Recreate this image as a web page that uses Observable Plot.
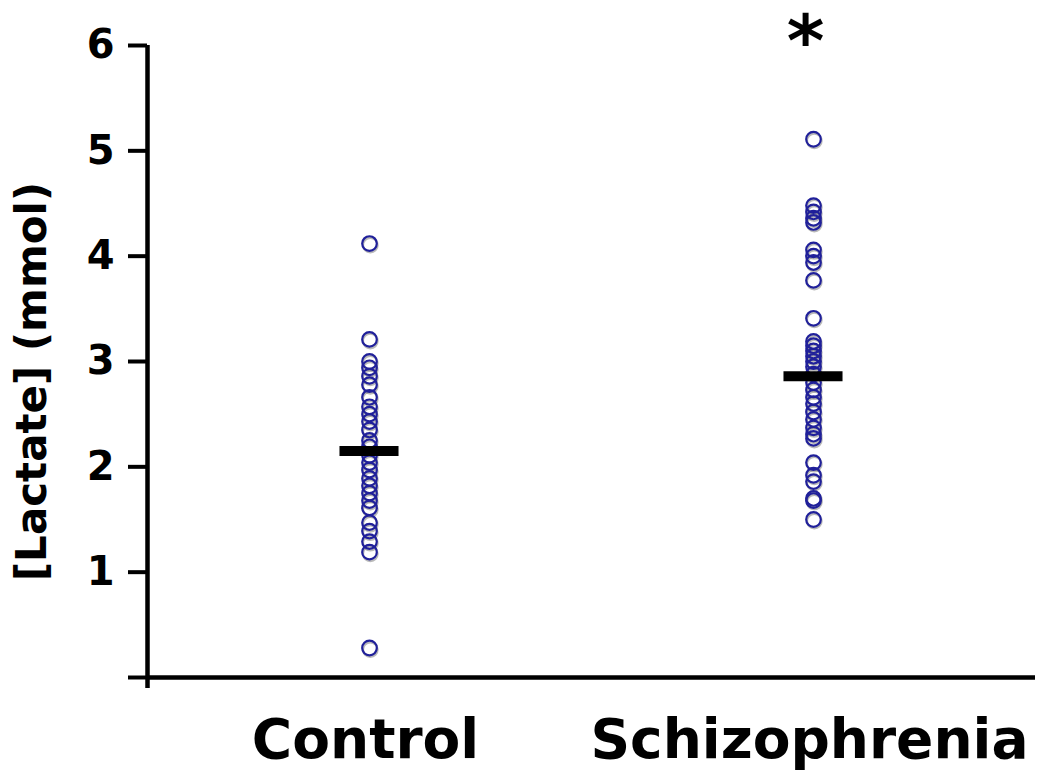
<!DOCTYPE html>
<html>
<head>
<meta charset="utf-8">
<script src="https://cdn.jsdelivr.net/npm/d3@7"></script>
<script src="https://cdn.jsdelivr.net/npm/@observablehq/plot@0.6"></script>
<style>
  html, body { margin: 0; padding: 0; background: #fff; }
</style>
</head>
<body>
<div id="chart"></div>
<script>
const categories = ["Control", "Schizophrenia"];
const controlValues = [4.12, 3.21, 3.00, 2.94, 2.86, 2.78, 2.66, 2.57, 2.50, 2.43, 2.35, 2.25, 2.19,
  2.11, 2.04, 1.97, 1.89, 1.82, 1.75, 1.68, 1.61, 1.47, 1.39, 1.29, 1.19, 0.28];
const schizophreniaValues = [5.11, 4.48, 4.42, 4.36, 4.32, 4.06, 4.00, 3.94, 3.77, 3.41, 3.19, 3.15,
  3.10, 3.05, 3.00, 2.95, 2.88, 2.80, 2.73, 2.66, 2.60, 2.52, 2.45, 2.37, 2.31, 2.27, 2.04, 1.92,
  1.86, 1.70, 1.68, 1.50];
const groupMeans = [2.15, 2.86];
const significance = ["", "*"];
const yTicks = [0, 1, 2, 3, 4, 5, 6];
const yLabel = "[Lactate] (mmol)";

const pos = i => 2 * i + 1;
const points = [
  ...controlValues.map(v => ({x: pos(0), y: v})),
  ...schizophreniaValues.map(v => ({x: pos(1), y: v}))
];
const means = groupMeans.map((v, i) => ({x: pos(i), y: v}));
const stars = significance.map((s, i) => ({x: pos(i), text: s}));

const chart = Plot.plot({
  width: 1047,
  height: 772,
  marginLeft: 147,
  marginRight: 12,
  marginTop: 45,
  marginBottom: 95,
  style: {fontFamily: "DejaVu Sans", fontWeight: "bold", color: "#000", background: "#fff"},
  x: {type: "linear", domain: [0, 4]},
  y: {domain: [0, 6]},
  marks: [
    Plot.ruleX([0], {strokeWidth: 4.5, stroke: "#000", insetBottom: -11}),
    Plot.ruleY([0], {strokeWidth: 4.5, stroke: "#000"}),
    Plot.axisY({ticks: yTicks, tickSize: 19, tickPadding: 14, strokeWidth: 4,
      tickFormat: d => d === 0 ? "" : d, fontSize: 40, fontWeight: "bold", label: null}),
    Plot.axisX({ticks: categories.map((c, i) => pos(i)), tickSize: 0, tickPadding: 41, dx: -4,
      tickFormat: d => categories[(d - 1) / 2], fontSize: 55, fontWeight: "bold", label: null}),
    Plot.text([yLabel], {frameAnchor: "left", text: d => d, rotate: -90, textAnchor: "middle",
      dx: -115, dy: 20, fontSize: 42, fontWeight: "bold", fill: "#000"}),
    Plot.dot(points, {x: "x", y: "y", r: 7.3, stroke: "#8a8a8a", strokeOpacity: 0.6, strokeWidth: 2.2, dx: 0.8, dy: 1.6}),
    Plot.dot(points, {x: "x", y: "y", r: 7.3, stroke: "#20209a", strokeWidth: 2.2}),
    Plot.ruleY(means, {y: "y", x1: d => d.x - 0.133, x2: d => d.x + 0.133, stroke: "#000", strokeWidth: 10}),
    Plot.text(stars, {x: "x", frameAnchor: "top", text: "text", fontSize: 72, fontWeight: "bold",
      dx: -8, dy: -31, fill: "#000"})
  ]
});
document.getElementById("chart").appendChild(chart);
</script>
</body>
</html>
